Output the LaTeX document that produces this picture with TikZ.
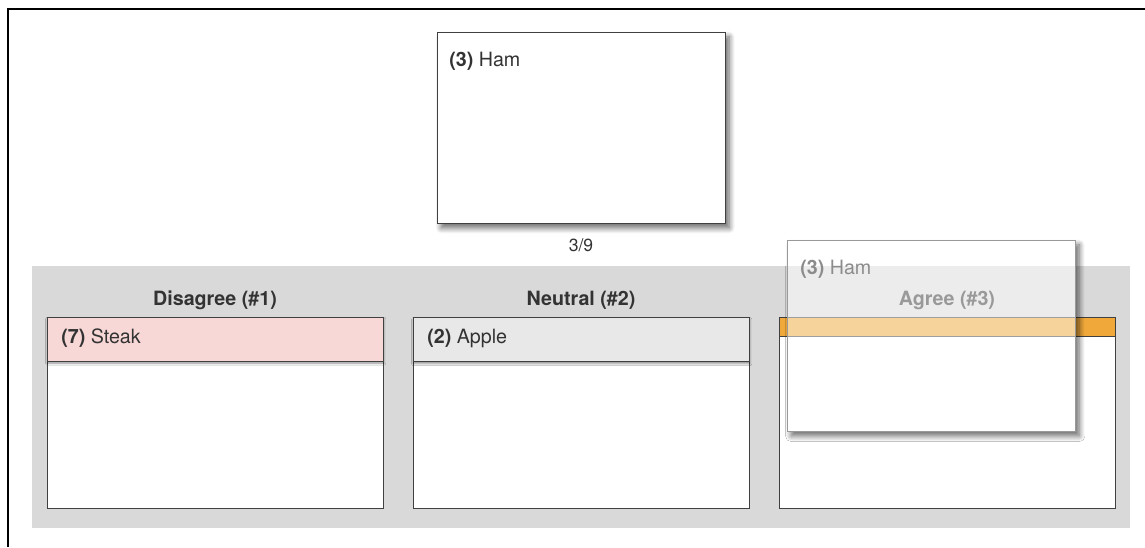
\documentclass[tikz,border=0pt]{standalone}
\usepackage{fontspec}
\setmainfont{TeX Gyre Heros}
\usetikzlibrary{shadows.blur}

\definecolor{ink}{HTML}{333333}
\definecolor{panelgray}{HTML}{D9D9D9}
\definecolor{steakpink}{HTML}{F8D7D7}
\definecolor{applegray}{HTML}{E8E8E8}
\definecolor{dropbar}{HTML}{F0A83A}

\tikzstyle{card}=[draw=black!75, fill=white, line width=0.6pt, inner sep=0pt, minimum width=7.2cm, minimum height=4.775cm]
\tikzstyle{cardshadow}=[blur shadow={shadow xshift=3pt, shadow yshift=-3.5pt, shadow blur steps=10, shadow blur radius=4pt, shadow opacity=60}]
\tikzstyle{column}=[draw=black!75, fill=white, line width=0.6pt, inner sep=0pt, minimum width=8.4cm, minimum height=4.775cm]
\tikzstyle{header}=[draw=black!75, line width=0.6pt, inner sep=0pt, minimum width=8.4cm, minimum height=1.1cm, blur shadow={shadow xshift=0.5pt, shadow yshift=-1.5pt, shadow blur steps=6, shadow blur radius=1.5pt, shadow opacity=45}]
\tikzstyle{lbl}=[font=\fontsize{14}{16}\selectfont, text=ink, inner sep=0pt, anchor=west]
\tikzstyle{title}=[font=\fontsize{14}{16}\selectfont\bfseries, text=ink, inner sep=0pt]

\begin{document}
\begin{tikzpicture}[x=0.025cm, y=-0.025cm]
        \useasboundingbox (0,0) rectangle (1145,547);
        % frame
        \coordinate (ftop) at (1145,9);
        \coordinate (fcorner) at (8,9);
        \coordinate (fbottom) at (8,547);
        \draw[line width=1.8pt] (ftop) -- (fcorner) -- (fbottom);
        % card on top of the deck
        \draw (581,127.5) node[card, cardshadow](top){};
        \draw (449,61) node[lbl](toplbl){\textbf{(3)} Ham};
        \draw (581,245) node[font=\fontsize{12.5}{14}\selectfont, text=ink, inner sep=0pt](count){3/9};
        % the three piles
        \draw (581,397) node[fill=panelgray, inner sep=0pt, minimum width=27.45cm, minimum height=6.55cm](panel){};
        \draw (215,300) node[title](t1){Disagree (\#1)};
        \draw (581,300) node[title](t2){Neutral (\#2)};
        \draw (947,300) node[title](t3){Agree (\#3)};
        \draw (215,412.5) node[column](c1){};
        \draw (581,412.5) node[column](c2){};
        \draw (947,412.5) node[column](c3){};
        \draw (215,339) node[header, fill=steakpink](h1){};
        \draw (581,339.5) node[header, fill=applegray](h2){};
        \draw (61,338) node[lbl](l1){\textbf{(7)} Steak};
        \draw (427,338) node[lbl](l2){\textbf{(2)} Apple};
        \draw (947,326.5) node[fill=dropbar, draw=black!75, line width=0.6pt, inner sep=0pt, minimum width=8.4cm, minimum height=0.475cm](bar){};
        % card being dragged: shadow only outside, half see-through card
        \begin{scope}[even odd rule]
          \clip (0,0) rectangle (1145,547) (787,240) rectangle (1075,431);
          \draw (931,335.5) node[card, draw=none, cardshadow](dragshadow){};
        \end{scope}
        \draw (931,335.5) node[card, draw=black!40, fill opacity=0.5](drag){};
        \draw (800,269) node[lbl, text=black!45](draglbl){\textbf{(3)} Ham};
\end{tikzpicture}
\end{document}
